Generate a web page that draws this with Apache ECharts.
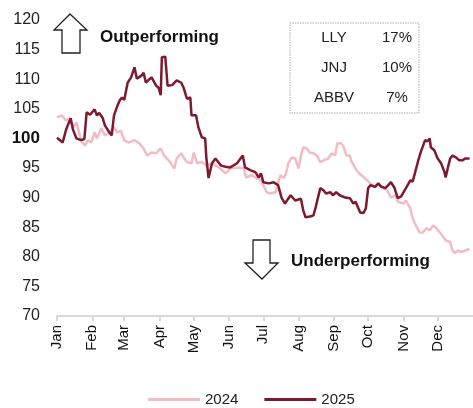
<!DOCTYPE html>
<html>
<head>
<meta charset="utf-8">
<script src="https://cdn.jsdelivr.net/npm/echarts@6/dist/echarts.min.js"></script>
<style>
html,body{margin:0;padding:0;background:#fff;}
#chart{width:473px;height:408px;}
</style>
</head>
<body>
<div id="chart"></div>
<script>
// Day-of-year positions (0 = Jan 1) and indexed values
const days2025 = [0,5,8,12,14,17,21,24,26,29,33,35,37,40,42,46,48,50,53,55,57,59,62,65,68,70,74,76,78,81,83,87,89,91,92,95,96,97,101,105,109,111,114,117,118,122,124,127,130,131,133,136,139,144,148,152,158,163,165,170,174,177,179,181,186,190,194,197,200,205,209,214,216,218,222,225,227,231,234,236,240,242,245,248,253,257,260,262,266,269,271,273,275,279,282,284,288,290,293,296,299,302,305,310,312,314,317,319,323,325,327,328,331,334,337,340,341,343,345,347,350,353,356,358,362];
const vals2025 = [100.1,99.3,101.5,103.4,101.5,100,99.7,99.9,104.4,104,104.9,103.9,104.3,103.5,102.2,101,100.5,103.9,105.5,106.4,106.9,106.5,109.4,110.3,112,110.1,110.6,111.1,109.4,110,110.3,108.9,108.6,107.3,113.7,113.8,114,108.9,109,109.8,109.4,108.6,106.7,106.9,103.9,103.9,101.9,100.2,100,96.8,93.3,95.8,96.6,95.4,95.2,95.1,95.8,97.1,95.1,94.6,94.3,93.4,94.1,92.6,92.4,92.6,92.1,90,89,90.4,89.5,89.8,87.9,86.7,86.8,87,88.4,91.6,91.2,90.7,90.9,90.4,90.9,90.4,90,89.9,89,89.3,87.5,87.4,88.2,91.6,92.1,91.8,92.4,91.9,91.6,92,92.6,91.7,89.9,90.2,91.2,92.9,92.7,94.1,96.3,97.6,99.7,99.5,100,98.5,98,96.6,95.8,94.3,93.4,95.1,96.6,97.1,96.8,96.3,96.3,96.6,96.6];

const days2024 = [0,4,8,11,14,17,20,22,25,27,30,33,35,39,42,46,50,53,56,59,63,68,72,76,79,83,87,91,94,98,103,105,109,111,114,118,120,123,127,131,136,142,148,152,159,164,166,171,175,179,181,184,187,192,194,196,199,201,203,206,209,212,214,216,219,222,225,228,231,234,238,241,244,246,249,251,254,257,258,262,264,267,270,275,279,282,286,290,293,297,299,304,306,310,312,315,318,321,324,327,330,332,336,338,341,345,347,349,352,354,359,362];
const vals2024 = [103.5,103.9,103,103.4,101.9,102.7,100.5,99.3,98.8,99.7,99.3,101,100,101.7,100.5,101,101.9,101,101.3,99.7,99.3,99.7,99.2,98.3,97.1,97.6,97.5,98.3,97.1,96.3,94.9,96.6,97.5,96.8,96,95.8,97.6,95.8,96,95.4,95.8,95.1,94.1,94.9,95.1,94.9,93.4,93.8,93.3,92.9,92.1,90.9,90.7,90.9,92.4,93.8,93.3,94.1,95.8,96.8,96.6,94.9,97.1,98.5,98.3,97.6,97.5,97.1,96,96.3,96.6,97.5,97.1,99.2,99.2,98.8,97.1,97.1,96.3,94.9,94.3,93.8,93.3,92.4,91.7,92.4,91.6,91.2,90,90.4,89.3,89,89.5,88.2,86.5,85.3,84.1,84.1,84.8,84.5,85.3,85,84.1,83.6,82.8,82.5,81.1,80.6,81.1,80.8,81.1,81.4];

const monthStarts = [0,31,59,90,120,151,181,212,243,273,304,334];
const monthNames = ['Jan','Feb','Mar','Apr','May','Jun','Jul','Aug','Sep','Oct','Nov','Dec'];
const yTicks = [70,75,80,85,90,95,100,105,110,115,120];
const seriesNames = ['2024','2025'];
const boxNames = ['LLY','JNJ','ABBV'];
const boxPcts = ['17%','10%','7%'];
const upText = 'Outperforming';
const downText = 'Underperforming';

const FONT = '"Liberation Sans", Arial, sans-serif';
const chart = echarts.init(document.getElementById('chart'));

function pairs(d, v){ return d.map((x,i)=>[x, v[i]]); }

const graphics = [
  // up arrow
  {type:'polygon', shape:{points:[[70,14],[87,30],[80,30],[80,53],[62,53],[62,30],[54,30]]},
   style:{fill:'#fff', stroke:'#222', lineWidth:1.3}},
  {type:'text', left:100, top:29, style:{text:upText, font:'bold 17px ' + FONT, fill:'#111'}},
  // down arrow
  {type:'polygon', shape:{points:[[253,240],[270,240],[270,263],[278,263],[262,279],[245,263],[253,263]]},
   style:{fill:'#fff', stroke:'#222', lineWidth:1.3}},
  {type:'text', left:291, top:253, style:{text:downText, font:'bold 17px ' + FONT, fill:'#111'}},
  // box
  {type:'rect', shape:{x:290, y:23, width:129, height:90},
   style:{fill:'#fff', stroke:'#d6d6d6', lineWidth:2, lineDash:[1.5,1]}}
];
boxNames.forEach((n,i)=>{
  graphics.push({type:'text', x:334, y:38 + i*30, style:{text:n, font:'15px ' + FONT, fill:'#222', align:'center', verticalAlign:'middle'}});
  graphics.push({type:'text', x:397, y:38 + i*30, style:{text:boxPcts[i], font:'15px ' + FONT, fill:'#222', align:'center', verticalAlign:'middle'}});
});

chart.setOption({
  animation:false,
  backgroundColor:'#fff',
  grid:{left:57, right:-3, top:20, bottom:92},
  xAxis:{
    type:'value', min:0, max:365,
    splitLine:{show:false},
    axisLine:{show:true, lineStyle:{color:'#d9d9d9', width:2}},
    axisTick:{show:true, customValues:monthStarts, length:5, lineStyle:{color:'#d9d9d9', width:2}},
    axisLabel:{customValues:monthStarts, rotate:90, margin:9, fontSize:15, color:'#111', fontFamily:FONT,
      formatter:(v)=>monthNames[monthStarts.indexOf(Math.round(v))] || ''}
  },
  yAxis:{
    type:'value', min:70, max:120, interval:5,
    splitLine:{show:false},
    axisLine:{show:false}, axisTick:{show:false},
    axisLabel:{margin:17, fontSize:16, color:'#222', fontFamily:FONT,
      formatter:(v)=> v===100 ? '{b|100}' : String(v),
      rich:{b:{fontWeight:'bold', fontSize:17, color:'#111', fontFamily:FONT}}}
  },
  legend:{
    left:143, top:387, icon:'rect', itemWidth:52, itemHeight:3, itemGap:26,
    textStyle:{fontSize:15, color:'#222', fontFamily:FONT},
    data:seriesNames
  },
  graphic:graphics,
  series:[
    {name:seriesNames[0], type:'line', data:pairs(days2024, vals2024), showSymbol:false,
     lineStyle:{color:'#f2bcc4', width:2.5}, itemStyle:{color:'#f2bcc4'}, z:2},
    {name:seriesNames[1], type:'line', data:pairs(days2025, vals2025), showSymbol:false,
     lineStyle:{color:'#7d1a30', width:2.5}, itemStyle:{color:'#7d1a30'}, z:3}
  ]
});
</script>
</body>
</html>
